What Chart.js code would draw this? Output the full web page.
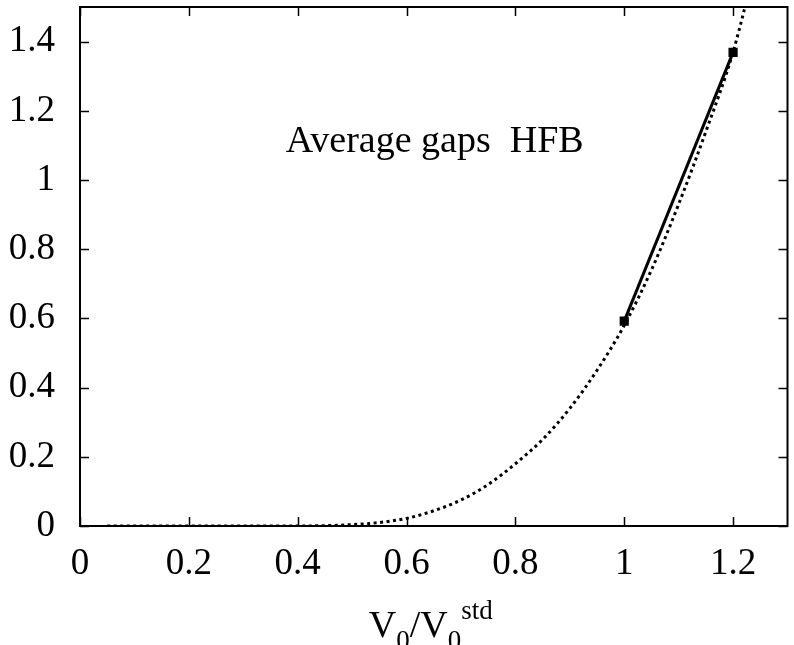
<!DOCTYPE html>
<html>
<head>
<meta charset="utf-8">
<script src="https://cdn.jsdelivr.net/npm/chart.js@4"></script>
<style>
  html, body { margin: 0; padding: 0; background: #fff; }
  #wrap { width: 794px; height: 645px; }
</style>
</head>
<body>
<div id="wrap"><canvas id="gaps"></canvas></div>
<script>
// HFB average gap vs V0/V0std

const curveX = [0.05, 0.1, 0.15, 0.2, 0.25, 0.3, 0.35, 0.4, 0.45, 0.5, 0.55, 0.6, 0.65, 0.7,
                0.75, 0.8, 0.85, 0.9, 0.95, 1.0, 1.05, 1.1, 1.15, 1.2, 1.25];
const curveY = [0, 0, 0, 0, 0, 0, 0, 0, 0.001, 0.004, 0.01, 0.022, 0.044, 0.075,
                0.12, 0.18, 0.25, 0.34, 0.45, 0.58, 0.74, 0.93, 1.14, 1.37, 1.68];

const pointsX = [1.0, 1.2];
const pointsY = [0.592, 1.369];

const xTicks = [0, 0.2, 0.4, 0.6, 0.8, 1, 1.2];
const yTicks = [0, 0.2, 0.4, 0.6, 0.8, 1, 1.2, 1.4];

const FONT = 'Liberation Serif, Times New Roman, serif';

// frame, inward ticks (mirrored), annotation and axis title
const framePlugin = {
  id: 'frame',
  afterDraw(chart) {
    const { ctx, chartArea: a, scales } = chart;
    ctx.save();
    ctx.strokeStyle = '#000';
    ctx.lineWidth = 2;
    ctx.strokeRect(a.left, a.top, a.right - a.left, a.bottom - a.top);

    ctx.lineWidth = 1.5;
    const len = 9;
    ctx.beginPath();
    xTicks.forEach(v => {
      const px = Math.round(scales.x.getPixelForValue(v)) + 0.5;
      ctx.moveTo(px, a.bottom); ctx.lineTo(px, a.bottom - len);
      ctx.moveTo(px, a.top); ctx.lineTo(px, a.top + len);
    });
    yTicks.forEach(v => {
      const py = Math.round(scales.y.getPixelForValue(v)) + 0.5;
      ctx.moveTo(a.left, py); ctx.lineTo(a.left + len, py);
      ctx.moveTo(a.right, py); ctx.lineTo(a.right - len, py);
    });
    ctx.stroke();

    ctx.fillStyle = '#000';
    ctx.textBaseline = 'alphabetic';
    ctx.textAlign = 'left';
    ctx.font = '38px ' + FONT;
    ctx.fillText('Average gaps  HFB', scales.x.getPixelForValue(0.378), scales.y.getPixelForValue(1.082));

    // V0/V0^std
    const base = 637;
    const big = '38px ' + FONT, small = '27px ' + FONT;
    const parts = [
      ['V', big, 0], ['0', small, 12], ['/V', big, 0], ['0', small, 12], ['std', small, -18]
    ];
    let w = 0;
    parts.forEach(p => { ctx.font = p[1]; w += ctx.measureText(p[0]).width; });
    let x = (a.left + a.right) / 2 - w / 2 - 3;
    parts.forEach(p => {
      ctx.font = p[1];
      ctx.fillText(p[0], x, base + p[2]);
      x += ctx.measureText(p[0]).width;
    });
    ctx.restore();
  }
};

new Chart(document.getElementById('gaps'), {
  type: 'scatter',
  data: {
    datasets: [
      {
        label: 'HFB fit',
        data: curveX.map((x, i) => ({ x, y: curveY[i] })),
        showLine: true,
        borderColor: '#000',
        borderWidth: 3,
        borderDash: [3, 3.5],
        cubicInterpolationMode: 'monotone',
        pointRadius: 0,
      },
      {
        label: 'HFB',
        data: pointsX.map((x, i) => ({ x, y: pointsY[i] })),
        showLine: true,
        borderColor: '#000',
        borderWidth: 3,
        backgroundColor: '#000',
        pointStyle: 'rect',
        pointRadius: 6.5,
        pointBorderWidth: 0,
      },
    ],
  },
  options: {
    responsive: true,
    maintainAspectRatio: false,
    animation: false,
    layout: { padding: { top: 7, right: 2, left: 0, bottom: 0 } },
    scales: {
      x: {
        type: 'linear',
        min: 0,
        max: 1.3,
        afterBuildTicks: s => { s.ticks = xTicks.map(v => ({ value: v })); },
        afterFit: s => { s.height = 119; s.paddingLeft = 0; s.paddingRight = 0; },
        grid: { display: false, drawTicks: false },
        border: { display: false },
        ticks: {
          color: '#000',
          padding: 16,
          font: { family: FONT, size: 37 },
          callback: v => String(v),
          maxRotation: 0,
        },
      },
      y: {
        type: 'linear',
        min: 0,
        max: 1.5,
        afterBuildTicks: s => { s.ticks = yTicks.map(v => ({ value: v })); },
        afterFit: s => { s.width = 80; s.paddingTop = 0; s.paddingBottom = 0; },
        grid: { display: false, drawTicks: false },
        border: { display: false },
        ticks: {
          color: '#000',
          padding: 25,
          font: { family: FONT, size: 37 },
          callback: v => String(v),
        },
      },
    },
    plugins: {
      legend: { display: false },
      tooltip: { enabled: false },
    },
  },
  plugins: [framePlugin],
});
</script>
</body>
</html>
